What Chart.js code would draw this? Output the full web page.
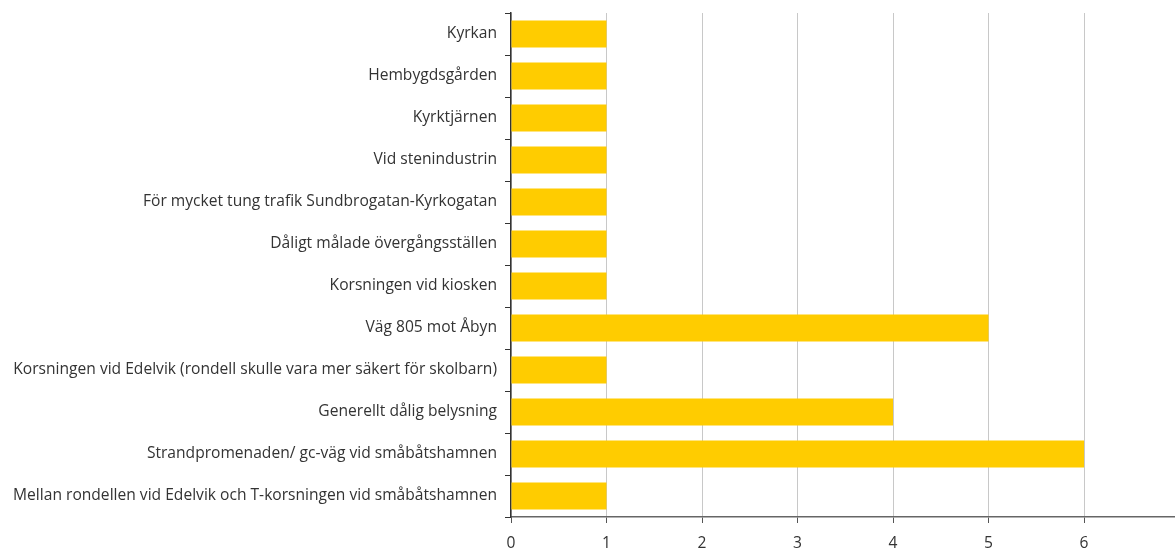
<!DOCTYPE html>
<html>
<head>
<meta charset="utf-8">
<script src="https://cdn.jsdelivr.net/npm/chart.js@4"></script>
<style>
    html, body { margin: 0; padding: 0; background: #fff; overflow: hidden; }
    #wrap { width: 1175px; height: 549px; overflow: hidden; }
    #box { width: 1195px; height: 549px; }
</style>
</head>
<body>
<div id="wrap"><div id="box"><canvas id="chart"></canvas></div></div>
<script>
// ── Data ─────────────────────────────────────────────────────
const categories = [
    "Kyrkan",
    "Hembygdsgården",
    "Kyrktjärnen",
    "Vid stenindustrin",
    "För mycket tung trafik Sundbrogatan-Kyrkogatan",
    "Dåligt målade övergångsställen",
    "Korsningen vid kiosken",
    "Väg 805 mot Åbyn",
    "Korsningen vid Edelvik (rondell skulle vara mer säkert för skolbarn)",
    "Generellt dålig belysning",
    "Strandpromenaden/ gc-väg vid småbåtshamnen",
    "Mellan rondellen vid Edelvik och T-korsningen vid småbåtshamnen"
];
const counts = [1, 1, 1, 1, 1, 1, 1, 5, 1, 4, 6, 1];
const xMin = 0;
const xMax = 7;

// ── Chart ────────────────────────────────────────────────────
const labelFont = { family: "Open Sans", size: 15.6 };

const ctx = document.getElementById("chart").getContext("2d");
new Chart(ctx, {
    type: "bar",
    data: {
        labels: categories,
        datasets: [{
            data: counts,
            backgroundColor: "#ffcc00",
            borderWidth: 0,
            barPercentage: 0.64,
            categoryPercentage: 1
        }]
    },
    options: {
        indexAxis: "y",
        responsive: true,
        maintainAspectRatio: false,
        animation: false,
        layout: { padding: { top: 13, right: 7, left: 0, bottom: 0 } },
        plugins: { legend: { display: false }, tooltip: { enabled: false } },
        scales: {
            x: {
                min: xMin,
                max: xMax,
                ticks: { stepSize: 1, color: "#333", font: labelFont, padding: 11 },
                grid: { color: "#c8c8c8", tickColor: "#555", tickLength: 6 },
                border: { color: "#666", width: 1.5 },
                afterFit: s => { s.height = 32; }
            },
            y: {
                ticks: { color: "#333", font: labelFont, padding: 8 },
                grid: { offset: true, drawOnChartArea: false, tickColor: "#333", tickLength: 6 },
                border: { color: "#333", width: 1.5 },
                // fixed axis width, no extra label room above the plot
                afterFit: s => { s.width = 511; s.paddingTop = 0; s.paddingBottom = 0; }
            }
        }
    }
});
</script>
</body>
</html>
